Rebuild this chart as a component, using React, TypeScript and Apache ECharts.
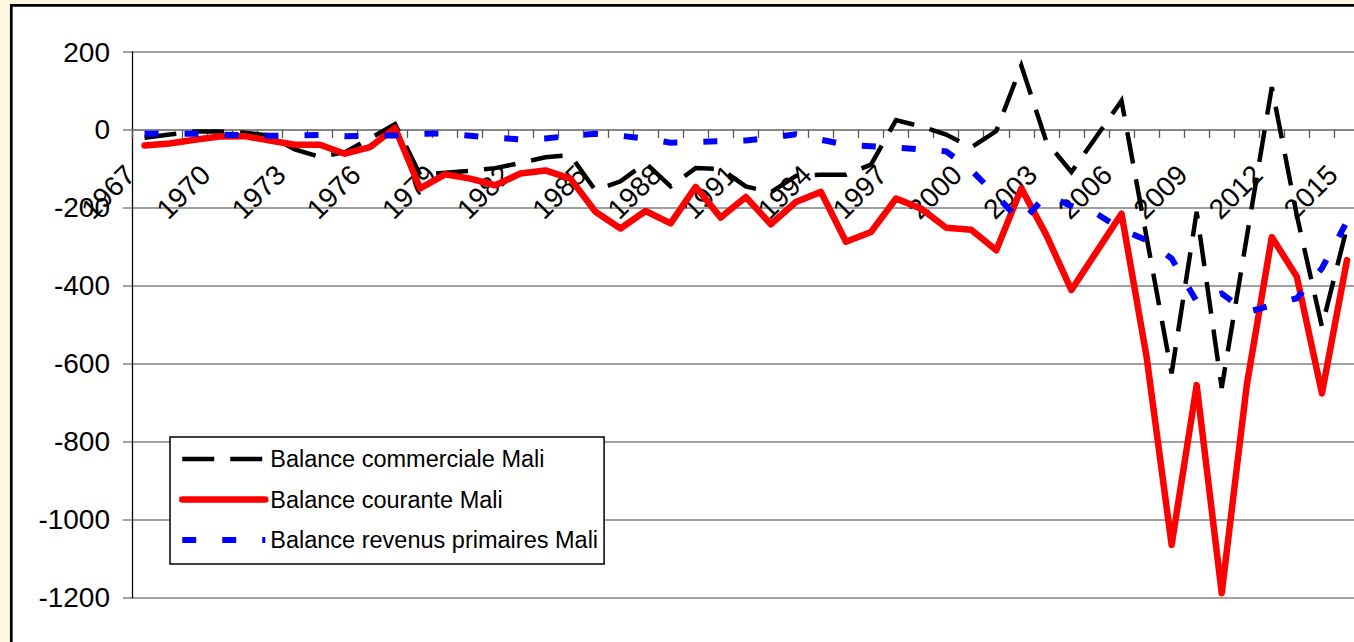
import React, { useEffect, useRef } from "react";
import * as echarts from "echarts";

const years = [
  "1967", "1968", "1969", "1970", "1971", "1972", "1973", "1974", "1975", "1976",
  "1977", "1978", "1979", "1980", "1981", "1982", "1983", "1984", "1985", "1986",
  "1987", "1988", "1989", "1990", "1991", "1992", "1993", "1994", "1995", "1996",
  "1997", "1998", "1999", "2000", "2001", "2002", "2003", "2004", "2005", "2006",
  "2007", "2008", "2009", "2010", "2011", "2012", "2013", "2014", "2015",
];

const balanceCommerciale = [
  -20, -12, -4, -4, -7, -15, -50, -69, -57, -22,
  15, -115, -110, -105, -98, -85, -70, -65, -155, -132,
  -85, -145, -98, -100, -145, -160, -118, -115, -115, -89,
  25, 9, -12, -45, -3, 165, -30, -108, -17, 75,
  -275, -625, -210, -662, -275, 110, -220, -505, -250,
];

const balanceCourante = [
  -40, -35, -25, -17, -16, -27, -38, -38, -61, -44,
  5, -150, -114, -125, -142, -112, -104, -125, -210, -253,
  -208, -240, -146, -225, -172, -242, -185, -159, -287, -262,
  -176, -202, -251, -256, -309, -150, -270, -411, -313, -215,
  -582, -1065, -655, -1189, -655, -275, -377, -676, -334,
];

const balanceRevenus = [
  -10, -10, -10, -12, -13, -15, -14, -13, -16, -15,
  -14, -10, -9, -15, -20, -24, -22, -15, -10, -15,
  -22, -33, -31, -29, -27, -20, -11, -25, -38, -42,
  -45, -50, -55, -103, -168, -237, -168, -195, -215, -255,
  -283, -330, -440, -420, -468, -450, -432, -355, -235,
];

const yTicks = { min: -1200, max: 200, interval: 200 };

const seriesNames = [
  "Balance commerciale Mali",
  "Balance courante Mali",
  "Balance revenus primaires Mali",
];

const FONT = "'Liberation Sans', Arial, Helvetica, sans-serif";

// plot box (pixels)
const PLOT = { left: 132, top: 52, width: 1227.5, height: 545.5 };
const zeroOffset = -(PLOT.height * (0 - yTicks.min)) / (yTicks.max - yTicks.min);

export default function App() {
  const ref = useRef<HTMLDivElement>(null);

  useEffect(() => {
    if (!ref.current) return;
    const chart = echarts.init(ref.current, null, { renderer: "svg" });
    const option = {
      animation: false,
      backgroundColor: "#FFF6E2",
      textStyle: { fontFamily: FONT },
      graphic: [
        {
          type: "rect",
          z: -100,
          silent: true,
          shape: { x: 11.3, y: 5.3, width: 1500, height: 800 },
          style: { fill: "#ffffff", stroke: "#000000", lineWidth: 2.7 },
        },
      ],
      grid: {
        left: PLOT.left,
        top: PLOT.top,
        width: PLOT.width,
        height: PLOT.height,
        containLabel: false,
        outerBoundsMode: "none",
      },
      legend: {
        orient: "vertical",
        left: 170,
        top: 437,
        padding: [8, 6, 10, 9],
        itemWidth: 83,
        itemHeight: 28,
        itemGap: 12.5,
        backgroundColor: "#ffffff",
        borderColor: "#000000",
        borderWidth: 1.5,
        itemStyle: { opacity: 0 },
        lineStyle: { width: "inherit", type: "inherit", cap: "inherit", color: "inherit" },
        textStyle: { fontSize: 23.5, color: "#000", lineHeight: 28, fontFamily: FONT },
        data: seriesNames,
      },
      xAxis: {
        type: "category",
        data: years,
        boundaryGap: true,
        offset: zeroOffset,
        axisLine: { onZero: false, lineStyle: { color: "#808080", width: 1.5 } },
        axisTick: { show: true, interval: 0, length: 8, lineStyle: { color: "#555555", width: 1.3 } },
        axisLabel: {
          interval: 2,
          rotate: 45,
          margin: 26,
          padding: [0, 20, 0, 0],
          fontSize: 28,
          color: "#000",
          fontFamily: FONT,
        },
        splitLine: { show: false },
      },
      yAxis: {
        type: "value",
        min: yTicks.min,
        max: yTicks.max,
        interval: yTicks.interval,
        axisLine: { show: true, lineStyle: { color: "#000000", width: 1.3 } },
        axisTick: { show: true, length: 9, lineStyle: { color: "#808080", width: 1.5 } },
        axisLabel: {
          fontSize: 28,
          margin: 22,
          color: "#000",
          fontFamily: FONT,
          formatter: (v: number) => String(v),
        },
        splitLine: { show: true, lineStyle: { color: "#808080", width: 1.5 } },
      },
      series: [
        {
          name: seriesNames[0],
          type: "line",
          data: balanceCommerciale,
          symbol: "none",
          lineStyle: { color: "#000000", width: 4.5, type: [32, 16], cap: "butt", join: "miter" },
          itemStyle: { color: "#000000" },
        },
        {
          name: seriesNames[1],
          type: "line",
          data: balanceCourante,
          symbol: "none",
          lineStyle: { color: "#FF0000", width: 6.5, type: "solid", cap: "round", join: "round" },
          itemStyle: { color: "#FF0000" },
        },
        {
          name: seriesNames[2],
          type: "line",
          data: balanceRevenus,
          symbol: "none",
          lineStyle: { color: "#0000FF", width: 6, type: [14, 26], cap: "butt", join: "miter" },
          itemStyle: { color: "#0000FF" },
        },
      ],
    };
    chart.setOption(option as any);
    return () => chart.dispose();
  }, []);

  return (
    <div
      ref={ref}
      style={{ position: "absolute", left: 0, top: 0, width: 1354, height: 642 }}
    />
  );
}
